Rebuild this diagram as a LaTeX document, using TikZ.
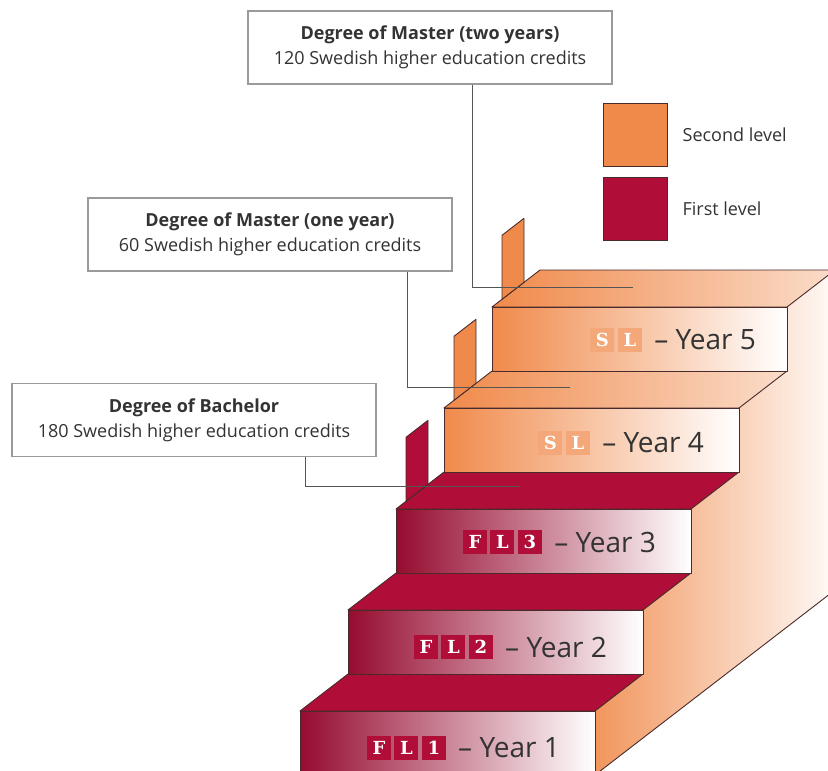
\documentclass[tikz,border=0pt]{standalone}
\usepackage{fontspec}
\setmainfont{Open Sans}
\newfontfamily\badgefont{DejaVu Serif}
\usetikzlibrary{positioning}
\definecolor{FirstRed}{HTML}{B00D38}
\definecolor{SecondOrange}{HTML}{F08A4B}
\definecolor{EdgeDark}{HTML}{4A2B2B}
\definecolor{BoxGray}{HTML}{9A9A9A}
\definecolor{LineGray}{HTML}{555555}
\definecolor{TextDark}{HTML}{333333}

\begin{document}
\begin{tikzpicture}[
  x=1pt, y=-1pt,
  edge/.style={draw=EdgeDark,line width=0.9pt,line join=round},
  redtop/.style={edge,fill=FirstRed},
  orangetop/.style={edge,left color=SecondOrange,right color=SecondOrange!30},
  redfront/.style={edge,left color=FirstRed!85!black,middle color=FirstRed!35,right color=white},
  orangefront/.style={edge,left color=SecondOrange,middle color=SecondOrange!45,right color=white},
  redflag/.style={edge,fill=FirstRed},
  orangeflag/.style={edge,fill=SecondOrange},
  degbox/.style={draw=BoxGray,line width=1.1pt,fill=white,minimum width=364pt,minimum height=73pt,
    align=center,text=TextDark,font=\fontsize{18}{25}\selectfont},
  conn/.style={draw=LineGray,line width=0.8pt},
  yearlbl/.style={inner sep=0pt,text=TextDark,font=\fontsize{28}{30}\selectfont},
  flbadge/.style={fill=FirstRed,text=white,minimum width=24pt,minimum height=24pt,inner sep=0pt,
    font=\badgefont\bfseries\fontsize{18}{18}\selectfont},
  slbadge/.style={flbadge,fill=SecondOrange!75!white},
  legbox/.style={draw=EdgeDark,line width=0.9pt,minimum width=64pt,minimum height=63pt,inner sep=0pt},
  leglbl/.style={text=TextDark,inner sep=0pt,font=\fontsize{18}{20}\selectfont}
]
\useasboundingbox (0,0) rectangle (828,771);
\clip (0,0) rectangle (828,771);

% side of the staircase
\path[left color=SecondOrange!90,right color=SecondOrange!4]
  (595,775) -- (595,711) -- (643,674) -- (643,610) -- (691,573) -- (691,509)
  -- (739,472) -- (739,408) -- (787,371) -- (787,307) -- (835,270) -- (835,590) -- cycle;
\draw[edge] (595,775) -- (835,590);

% year 1
\draw[redtop] (300,711) -- (595,711) -- (643,674) -- (348,674) -- cycle;
\draw[redfront] (300,711) rectangle (595,775);
% year 2
\draw[redtop] (348,610) -- (643,610) -- (691,573) -- (396,573) -- cycle;
\draw[redfront] (348,610) rectangle (643,674);
% year 3
\draw[redtop] (396,509) -- (691,509) -- (739,472) -- (444,472) -- cycle;
\draw[redfront] (396,509) rectangle (691,573);
\draw[redflag] (406,501.3) -- (428,484.3) -- (428,420.3) -- (406,437.3) -- cycle;
% year 4
\draw[orangetop] (444,408) -- (739,408) -- (787,371) -- (492,371) -- cycle;
\draw[orangefront] (444,408) rectangle (739,472);
\draw[orangeflag] (454,400.3) -- (476,383.3) -- (476,319.3) -- (454,336.3) -- cycle;
% year 5
\draw[orangetop] (492,307) -- (787,307) -- (835,270) -- (540,270) -- cycle;
\draw[orangefront] (492,307) rectangle (787,371);
\draw[orangeflag] (502,299.3) -- (524,282.3) -- (524,218.3) -- (502,235.3) -- cycle;

% year labels
\node[yearlbl,anchor=east] (year1) at (560,748) {-- Year 1};
\node[flbadge,left=12pt of year1] (year1c) {1};
\node[flbadge,left=3pt of year1c] (year1b) {L};
\node[flbadge,left=3pt of year1b] (year1a) {F};

\node[yearlbl,anchor=east] (year2) at (607,647) {-- Year 2};
\node[flbadge,left=12pt of year2] (year2c) {2};
\node[flbadge,left=3pt of year2c] (year2b) {L};
\node[flbadge,left=3pt of year2b] (year2a) {F};

\node[yearlbl,anchor=east] (year3) at (656,542) {-- Year 3};
\node[flbadge,left=12pt of year3] (year3c) {3};
\node[flbadge,left=3pt of year3c] (year3b) {L};
\node[flbadge,left=3pt of year3b] (year3a) {F};

\node[yearlbl,anchor=east] (year4) at (704,443) {-- Year 4};
\node[slbadge,left=12pt of year4] (year4b) {L};
\node[slbadge,left=3pt of year4b] (year4a) {S};

\node[yearlbl,anchor=east] (year5) at (756,340) {-- Year 5};
\node[slbadge,left=12pt of year5] (year5b) {L};
\node[slbadge,left=3pt of year5b] (year5a) {S};

% degree boxes
\node[degbox] (bachelor) at (194,420) {\textbf{Degree of Bachelor}\\180 Swedish higher education credits};
\node[degbox] (masterone) at (270,234.5) {\textbf{Degree of Master (one year)}\\60 Swedish higher education credits};
\node[degbox] (mastertwo) at (430,47.5) {\textbf{Degree of Master (two years)}\\120 Swedish higher education credits};

\coordinate (bachend) at (520,486);
\coordinate (oneend) at (570,387);
\coordinate (twoend) at (633,287);
\draw[conn] ([xshift=111pt]bachelor.south) |- (bachend);
\draw[conn] ([xshift=137pt]masterone.south) |- (oneend);
\draw[conn] ([xshift=42pt]mastertwo.south) |- (twoend);

% legend
\node[legbox,fill=SecondOrange] (legsecond) at (635,134.5) {};
\node[legbox,fill=FirstRed] (legfirst) at (635,208.5) {};
\node[leglbl,right=15pt of legsecond] (legsecondlbl) {Second level};
\node[leglbl,right=15pt of legfirst] (legfirstlbl) {First level};
\end{tikzpicture}
\end{document}
